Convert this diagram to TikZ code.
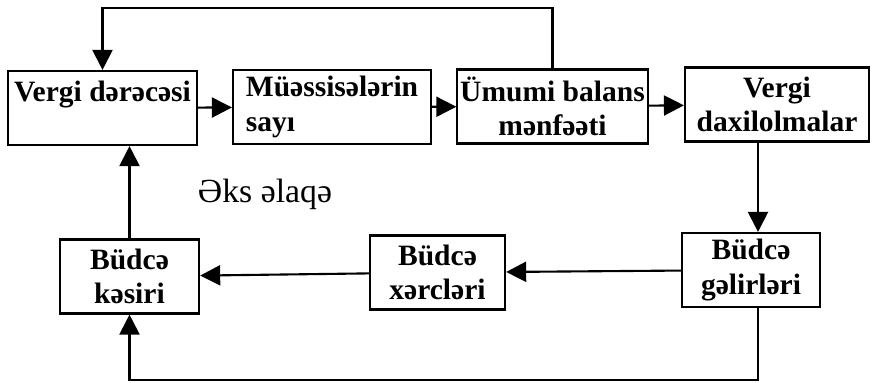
\documentclass[tikz,border=0pt]{standalone}
\usepackage{fontspec}
\setmainfont{Liberation Serif}
\usetikzlibrary{arrows.meta}
\begin{document}
\begin{tikzpicture}[x=0.025cm,y=-0.025cm,
  blk/.style={draw,line width=1.5pt,minimum height=1.85cm,inner sep=2pt,
    font=\bfseries\fontsize{21}{24.5}\selectfont},
  flow/.style={line width=1.5pt,-{Triangle[length=0.5cm,width=0.5cm]}}]
\useasboundingbox (0,0) rectangle (872,382);
\node[blk,align=left,minimum width=4.72cm] (vd) at (102.5,108) {Vergi dərəcəsi\\~};
\node[blk,align=left,minimum width=4.95cm] (ms) at (332,107) {Müəssisələrin\\sayı};
\node[blk,align=center,minimum width=4.68cm] (ub) at (552.5,106.5) {Ümumi balans\\mənfəəti};
\node[blk,align=center,minimum width=4.6cm] (vdx) at (777,104.5) {Vergi\\daxilolmalar};
\node[blk,align=center,minimum width=3.45cm] (bg) at (751,270) {Büdcə\\gəlirləri};
\node[blk,align=center,minimum width=3.38cm] (bx) at (437.5,272.5) {Büdcə\\xərcləri};
\node[blk,align=center,minimum width=3.48cm] (bk) at (129.5,276.5) {Büdcə\\kəsiri};
\node[font=\fontsize{24}{26}\selectfont] (ea) at (265,194) {Əks əlaqə};
\coordinate (cx) at (758,0);
\coordinate (topline) at (0,8);
\coordinate (lowline) at (0,380);
\draw[flow] (vd) -- (ms);
\draw[flow] (ms) -- (ub);
\draw[flow] (ub) -- (vdx);
\draw[flow] (vdx.south -| cx) -- (bg.north -| cx);
\draw[flow] (bg) -- (bx);
\draw[flow] (bx) -- (bk);
\draw[flow] (bk.north) -- (vd.south -| bk.north);
\draw[flow] (ub.north) -- (ub.north |- topline) -| (vd.north);
\draw[flow] (bg.south -| cx) -- (cx |- lowline) -| (bk.south);
\end{tikzpicture}
\end{document}
